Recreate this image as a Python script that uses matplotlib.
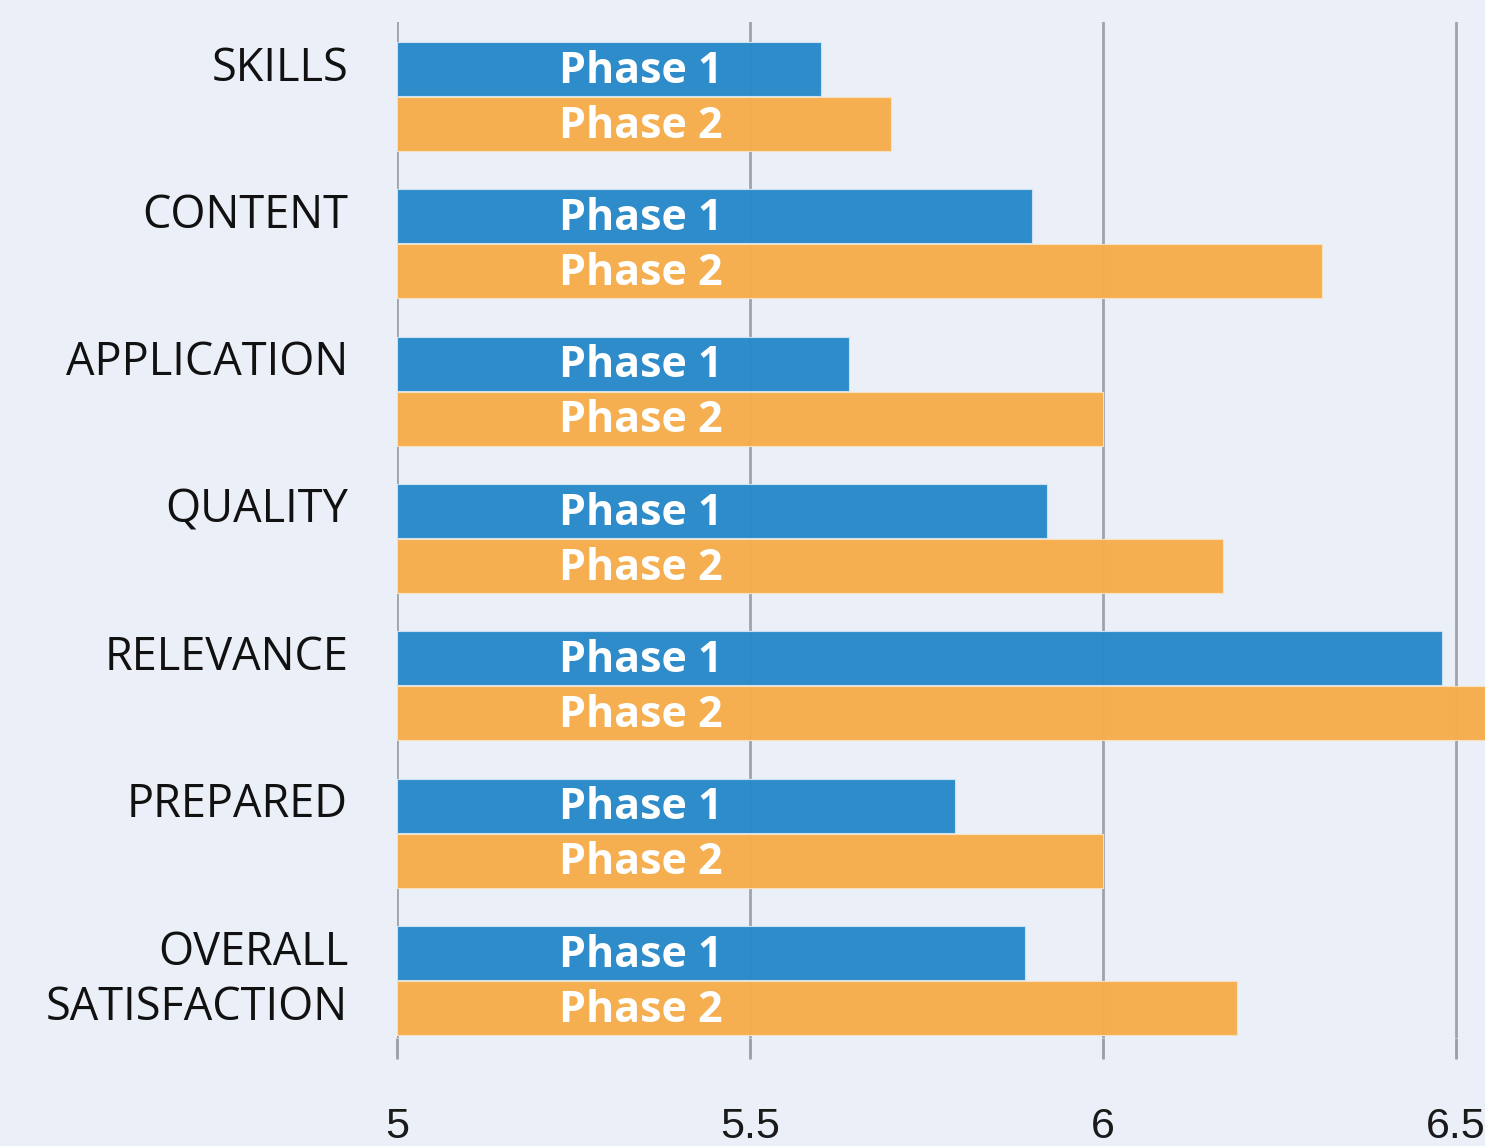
import matplotlib
matplotlib.use("Agg")
import matplotlib.pyplot as plt
import numpy as np

categories = ["SKILLS", "CONTENT", "APPLICATION", "QUALITY", "RELEVANCE", "PREPARED", "OVERALL\nSATISFACTION"]
phase1 = [5.60, 5.90, 5.64, 5.92, 6.48, 5.79, 5.89]
phase2 = [5.70, 6.31, 6.00, 6.17, 6.60, 6.00, 6.19]
series_labels = ["Phase 1", "Phase 2"]
xticks = [5, 5.5, 6, 6.5]
xtick_labels = ["5", "5.5", "6", "6.5"]

bg = "#ebeff7"
blue = "#2789c8"
orange = "#f6ad4b"

fig = plt.figure(figsize=(14.85, 11.46), dpi=100, facecolor=bg)
W, H = 1485, 1146
ax = fig.add_axes([397 / W, 1 - 1038 / H, (W - 397) / W, (1038 - 22) / H])
ax.set_facecolor(bg)

x0 = 5.0
xmax = 5 + (W - 397) / 706.0
ax.set_xlim(x0, xmax)
ax.set_ylim(6.39, -0.506)

idx = np.arange(len(categories))
h = 0.367
off = 0.1867
ax.barh(idx - off, np.array(phase1) - x0, left=x0, height=h, color=blue, zorder=2, alpha=0.97,
        edgecolor="#cfe3f2", linewidth=0.8)
ax.barh(idx + off, np.array(phase2) - x0, left=x0, height=h, color=orange, zorder=2, alpha=0.97,
        edgecolor="#fbe2bf", linewidth=0.8)

txt_x = 5 + (559 - 397) / 706.0
for i in idx:
    ax.text(txt_x, i - off - 0.02, series_labels[0], color="white", fontsize=31, fontweight="bold",
            family="Open Sans", ha="left", va="center_baseline", zorder=3)
    ax.text(txt_x, i + off - 0.02, series_labels[1], color="white", fontsize=31, fontweight="bold",
            family="Open Sans", ha="left", va="center_baseline", zorder=3)
    ax.text(-0.045, i - 0.345, categories[i], transform=ax.get_yaxis_transform(),
            ha="right", va="top", fontsize=32.5, family="Open Sans", color="#111111",
            linespacing=1.27)

ax.set_yticks([])
ax.set_xticks(xticks)
ax.set_xticklabels(xtick_labels, fontsize=31, family="Liberation Sans", color="#1a1a1a")
ax.tick_params(axis="x", length=15, width=2, color="#9a9ea4", pad=35)
ax.grid(axis="x", color="#a0a4aa", linewidth=2, zorder=1)
for s in ax.spines.values():
    s.set_visible(False)

fig.savefig("out.png", dpi=100, facecolor=bg)
